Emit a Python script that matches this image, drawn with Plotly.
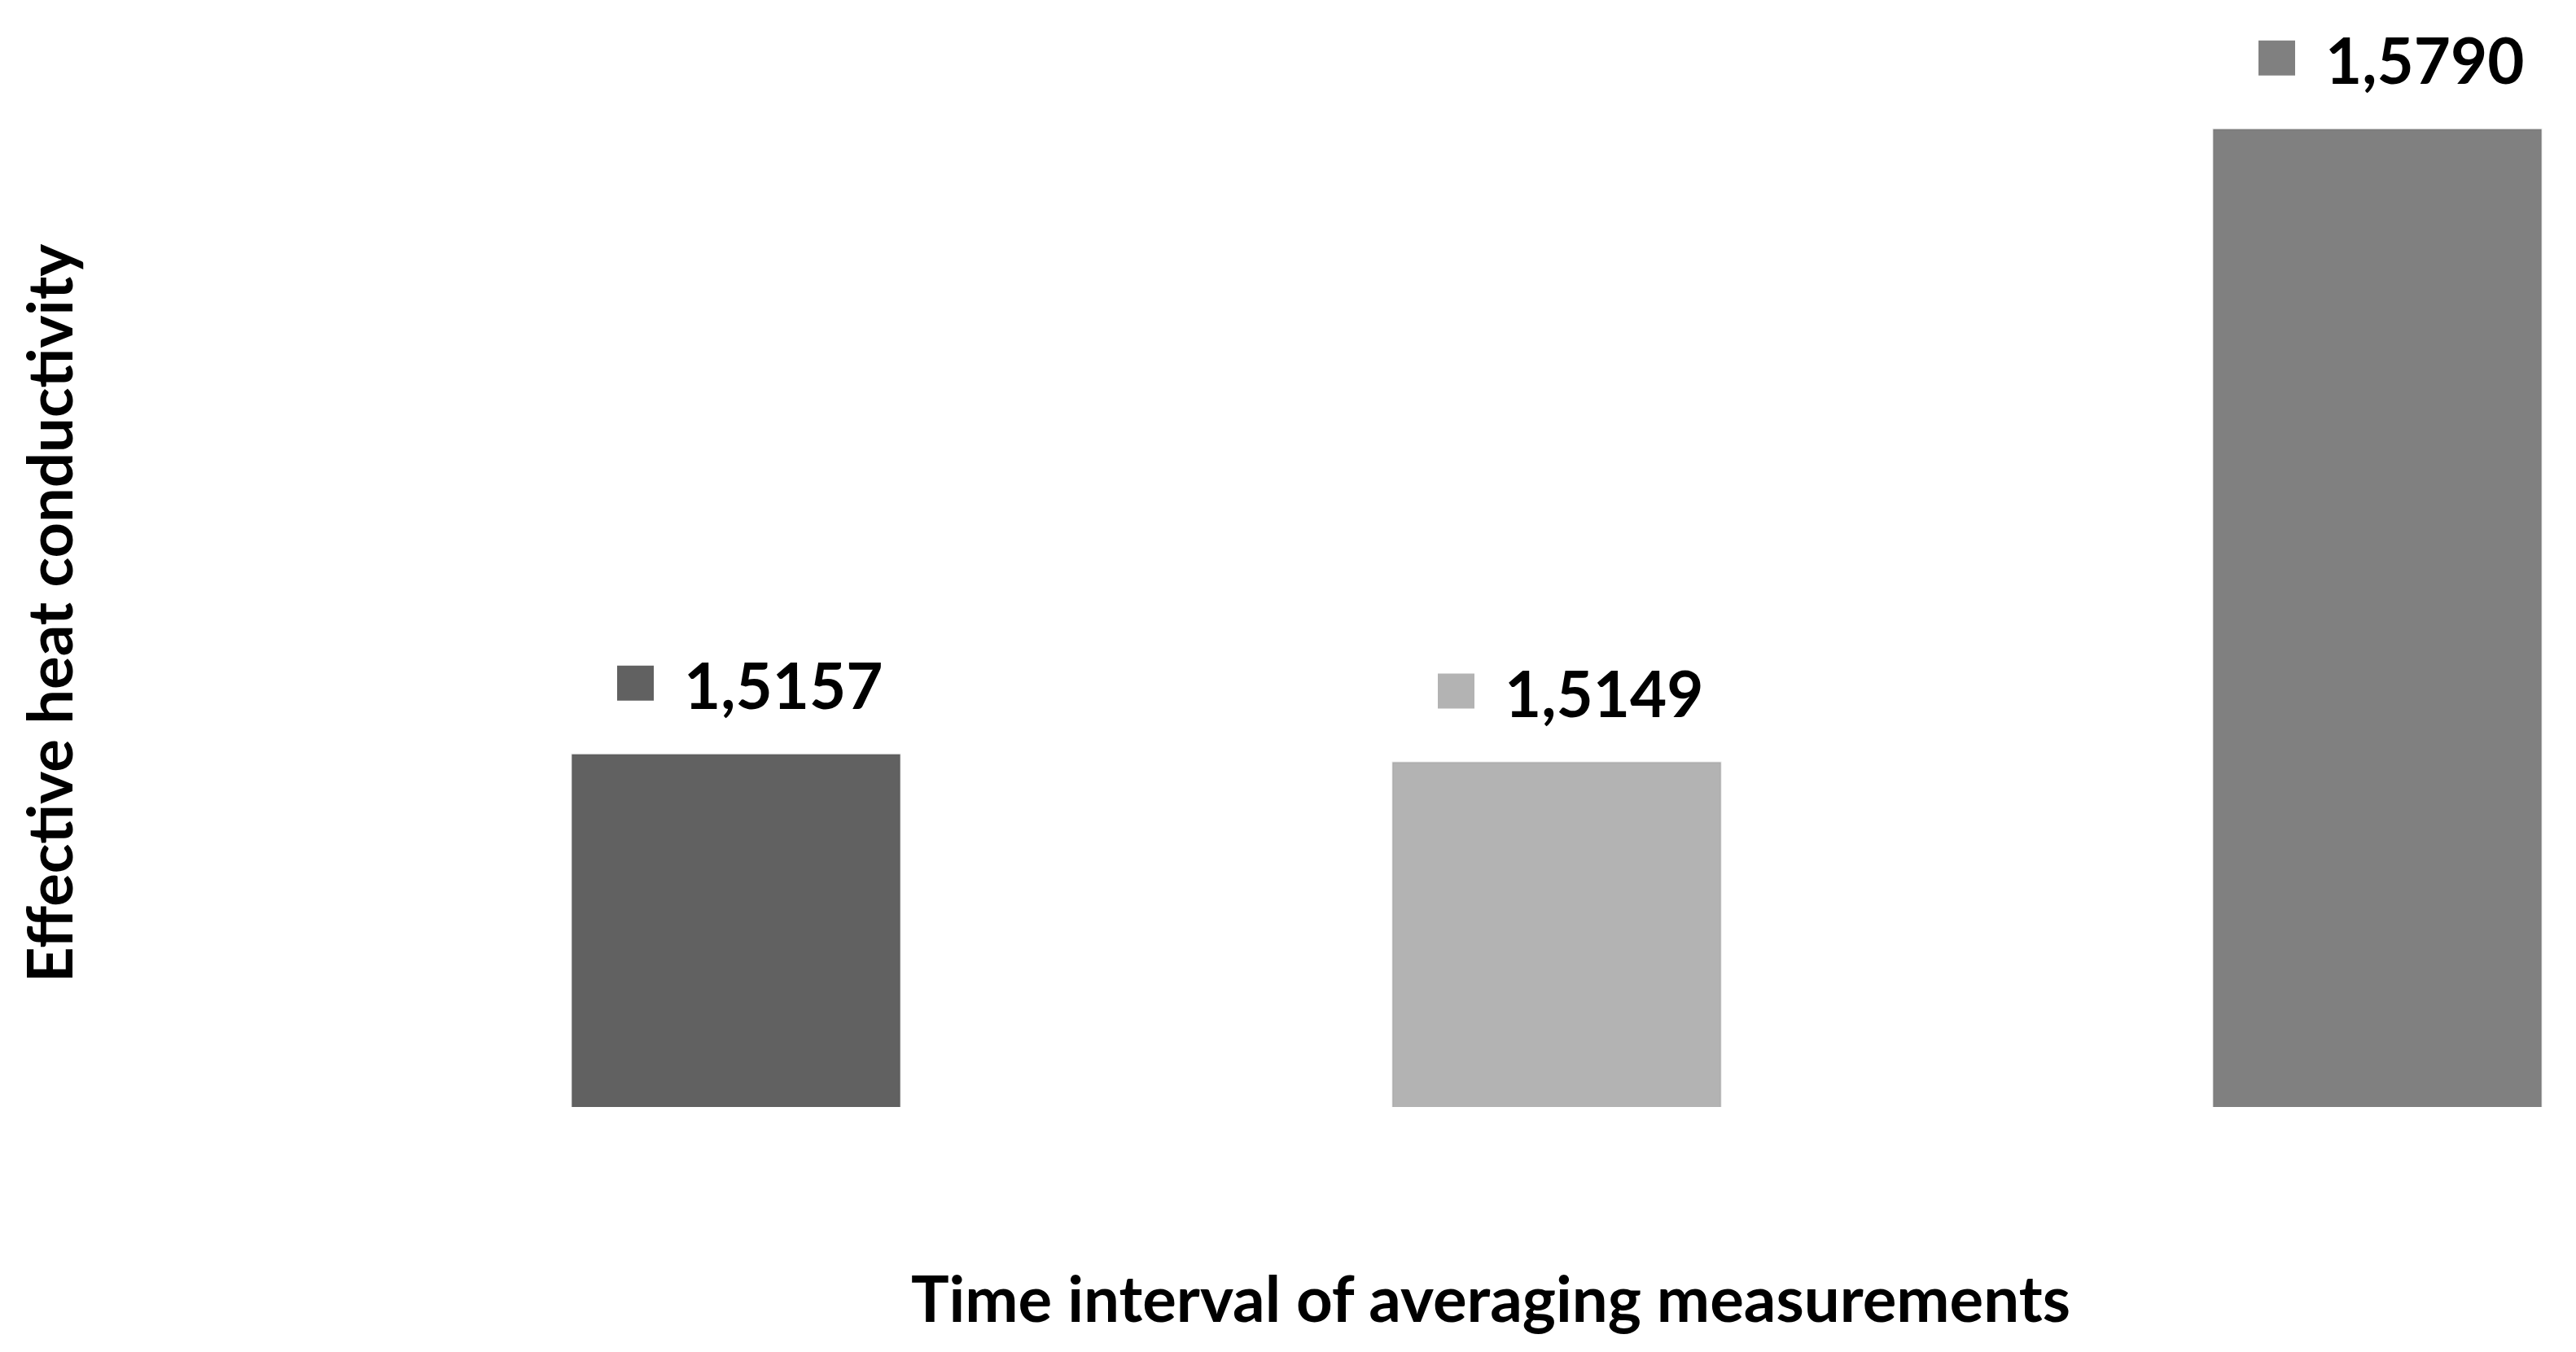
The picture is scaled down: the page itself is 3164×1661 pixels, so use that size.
import plotly.graph_objects as go

# Data
categories = ["Interval 1", "Interval 2", "Interval 3"]
values = [1.5157, 1.5149, 1.5790]
value_labels = ["1,5157", "1,5149", "1,5790"]
colors = ["#616161", "#b3b3b3", "#808080"]

x_title = "Time interval of averaging measurements"
y_title = "Effective heat conductivity"

OFF = 8  # page body margin compensation
W, H = 3164 - OFF, 1661 - OFF
FONT = "Lato"
PLOT_BOTTOM = 1360 - OFF  # in figure pixels


def px(P):
    return (P - OFF) / W


def py(P):
    return (1360 - P) / PLOT_BOTTOM


fig = go.Figure()
fig.add_trace(go.Bar(
    x=categories, y=values, width=0.4,
    marker=dict(color=colors, line=dict(color="rgba(0,0,0,0.08)", width=2)),
    showlegend=False, hoverinfo="skip",
))

annotations = []
shapes = []
for cat, val, lab, col in zip(categories, values, value_labels, colors):
    shapes.append(dict(
        type="rect", xref="x", yref="y", xsizemode="pixel", ysizemode="pixel",
        xanchor=cat, yanchor=val, x0=-146, x1=-101, y0=66, y1=109,
        fillcolor=col, line=dict(width=0),
    ))
    annotations.append(dict(
        x=cat, y=val, xref="x", yref="y", text=f"<b>{lab}</b>", showarrow=False,
        xanchor="left", yanchor="middle", xshift=-66, yshift=86,
        font=dict(family=FONT, size=78, color="#000000"),
    ))

annotations.append(dict(
    x=px(1831), y=py(1594), xref="paper", yref="paper",
    text=f"<b>{x_title}</b>", showarrow=False, xanchor="center", yanchor="middle",
    font=dict(family=FONT, size=78, color="#000000"),
))
annotations.append(dict(
    x=px(60), y=py(753), xref="paper", yref="paper",
    text=f"<b>{y_title}</b>", showarrow=False, xanchor="center", yanchor="middle",
    textangle=-90, font=dict(family=FONT, size=76, color="#000000"),
))

fig.update_layout(
    width=W, height=H,
    margin=dict(l=0, r=0, t=0, b=H - PLOT_BOTTOM),
    paper_bgcolor="white", plot_bgcolor="white",
    xaxis=dict(type="category", range=[(OFF - 904) / 1008, (3164 - 904) / 1008],
               showticklabels=False, showgrid=False, zeroline=False,
               showline=False, ticks=""),
    yaxis=dict(range=[1.48, 1.48 + (1360 - OFF) / 12133], showticklabels=False,
               showgrid=False, zeroline=False, showline=False, ticks=""),
    annotations=annotations, shapes=shapes,
)

fig.write_html("out.html")
